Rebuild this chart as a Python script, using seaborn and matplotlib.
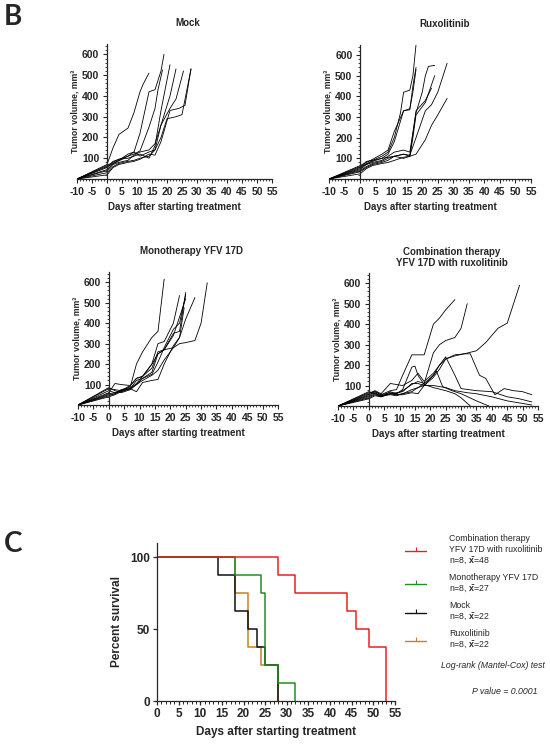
import pandas as pd
import matplotlib
matplotlib.use("Agg")
import matplotlib.pyplot as plt
from matplotlib.lines import Line2D
from matplotlib.ticker import MultipleLocator
import seaborn as sns

# ---- tumour growth, one list per mouse (days after start, volume mm3) ----
mock_days = [
    [-10, 0, 2, 4, 7, 9, 11, 12, 14],
    [-10, 0, 3, 5, 7, 9, 11, 14, 16, 18, 19],
    [-10, 0, 2, 5, 7, 9, 11, 14, 16, 17, 18.5],
    [-10, 0, 2, 4, 7, 9, 11, 14, 16, 18, 21],
    [-10, 0, 2, 4, 7, 9, 11, 14, 16, 18, 21, 23],
    [-10, 0, 2, 4, 7, 9, 11, 14, 16, 18, 21, 23, 25.5],
    [-10, 0, 2, 4, 7, 9, 11, 14, 16, 18, 20, 23, 25, 28],
    [-10, 0, 2, 4, 7, 9, 11, 14, 16, 18, 21, 24, 26, 28],
]
mock_vols = [
    [0, 70, 150, 215, 245, 320, 420, 455, 510],
    [0, 60, 80, 95, 110, 130, 220, 420, 430, 520, 600],
    [0, 55, 85, 100, 110, 120, 135, 250, 340, 430, 525],
    [0, 65, 80, 95, 100, 110, 120, 100, 160, 330, 550],
    [0, 40, 70, 80, 90, 115, 130, 140, 170, 260, 400, 530],
    [0, 45, 75, 90, 120, 130, 110, 130, 140, 260, 340, 385, 520],
    [0, 30, 60, 75, 85, 90, 100, 110, 140, 200, 290, 300, 310, 530],
    [0, 20, 55, 70, 80, 85, 95, 120, 115, 180, 330, 340, 355, 530],
]

rux_days = [
    [-10, 0, 2, 4, 7, 9, 11, 13, 14, 16, 17, 18],
    [-10, 0, 2, 4, 7, 9, 11, 14, 16, 17, 18],
    [-10, 0, 2, 4, 7, 9, 11, 14, 16, 18, 20, 21, 22, 24],
    [-10, 0, 2, 4, 7, 9, 11, 14, 16, 17, 18, 21, 24],
    [-10, 0, 2, 4, 7, 9, 11, 14, 16, 18, 21, 23, 25, 28],
    [-10, 0, 2, 4, 7, 9, 11, 14, 16, 18, 21, 23, 25, 28],
    [-10, 0, 2, 4, 7, 9, 11, 14, 16, 17, 18],
    [-10, 0, 2, 4, 7, 9, 11, 14, 16, 18, 21, 23],
]
rux_vols = [
    [0, 60, 70, 90, 110, 130, 200, 320, 420, 430, 500, 650],
    [0, 50, 75, 85, 100, 120, 180, 330, 335, 450, 540],
    [0, 45, 70, 80, 90, 110, 130, 140, 130, 320, 420, 500, 545, 550],
    [0, 40, 60, 75, 85, 100, 110, 120, 110, 200, 310, 370, 500],
    [0, 35, 55, 70, 80, 90, 110, 120, 115, 200, 330, 360, 420, 560],
    [0, 25, 50, 65, 75, 80, 90, 105, 110, 120, 190, 260, 310, 390],
    [0, 65, 80, 95, 120, 140, 230, 330, 340, 420, 530],
    [0, 55, 85, 90, 100, 105, 110, 100, 110, 330, 380, 440],
]

mono_days = [
    [-10, 0, 2, 4, 7, 9, 11, 14, 16, 18],
    [-10, 0, 2, 4, 7, 9, 11, 14, 16, 18, 21, 23],
    [-10, 0, 2, 4, 7, 9, 11, 14, 16, 18, 21, 23, 25],
    [-10, 0, 2, 4, 7, 9, 11, 14, 16, 18, 21, 23, 25],
    [-10, 0, 2, 4, 7, 9, 11, 14, 16, 18, 21, 23, 24.5],
    [-10, 0, 2, 4, 7, 9, 11, 14, 16, 18, 21, 23, 25, 28],
    [-10, 0, 2, 4, 7, 9, 11, 14, 16, 18, 21, 23, 25, 28, 30, 32],
    [-10, 0, 2, 4, 7, 9, 11, 14, 16, 18, 21, 23, 25],
]
mono_vols = [
    [0, 80, 75, 70, 90, 200, 260, 330, 360, 615],
    [0, 50, 55, 70, 95, 130, 140, 200, 300, 310, 400, 535],
    [0, 60, 105, 100, 95, 130, 140, 180, 260, 270, 350, 360, 550],
    [0, 70, 60, 65, 80, 120, 130, 160, 250, 270, 340, 430, 520],
    [0, 55, 60, 70, 80, 65, 110, 120, 125, 200, 290, 330, 475],
    [0, 45, 55, 75, 85, 100, 120, 145, 170, 220, 280, 330, 420, 525],
    [0, 40, 50, 65, 80, 105, 140, 200, 250, 270, 280, 300, 305, 315, 400, 597],
    [0, 85, 70, 60, 75, 100, 130, 150, 210, 280, 370, 400, 540],
]

combo_days = [
    [-10, 0, 2, 4, 7, 9, 11, 14, 16, 18, 21, 23, 25, 28],
    [-10, 0, 2, 4, 7, 9, 11, 14, 16, 18, 21, 23, 25, 28, 30, 32],
    [-10, 0, 2, 4, 7, 9, 11, 14, 16, 18, 21, 23, 25, 28, 31, 35, 38, 42, 45, 49],
    [-10, 0, 2, 4, 7, 9, 11, 14, 16, 18, 21, 23, 25, 28, 30, 35, 40, 45, 49, 53],
    [-10, 0, 2, 4, 7, 9, 11, 14, 16, 18, 21, 23, 25, 28, 31, 33, 36, 38, 41, 44, 47, 50, 53],
    [-10, 0, 2, 4, 7, 9, 11, 14, 15, 16, 18, 21, 25, 28, 30, 33],
    [-10, 0, 2, 4, 7, 9, 11, 14, 16, 18, 21, 22, 24, 27, 30, 35, 39],
    [-10, 0, 2, 4, 7, 9, 11, 14, 16, 18, 21, 25, 28, 32, 35, 40, 45, 49, 53],
]
combo_vols = [
    [0, 65, 70, 55, 75, 80, 150, 250, 250, 250, 400, 430, 470, 520],
    [0, 50, 65, 45, 70, 60, 75, 105, 120, 110, 260, 300, 320, 335, 380, 500],
    [0, 40, 55, 45, 60, 55, 60, 70, 90, 110, 150, 200, 230, 250, 255, 270, 310, 380, 405, 590],
    [0, 60, 75, 60, 110, 105, 100, 125, 160, 120, 160, 200, 240, 150, 85, 75, 70, 45, 35, 20],
    [0, 70, 60, 50, 60, 55, 55, 65, 60, 100, 140, 180, 230, 245, 255, 255, 150, 135, 55, 85, 75, 70, 55],
    [0, 55, 70, 55, 65, 60, 80, 190, 195, 150, 105, 90, 75, 60, 40, 0],
    [0, 45, 60, 50, 55, 50, 60, 80, 90, 100, 150, 170, 95, 75, 60, 25, 0],
    [0, 35, 50, 45, 60, 65, 70, 110, 110, 100, 100, 90, 75, 65, 60, 45, 25, 15, 5],
]

# ---- Kaplan-Meier survival steps (day, percent surviving) ----
surv_combo_days = [0, 28, 32, 44, 46, 49, 53]
surv_combo = [100, 87.5, 75, 62.5, 50, 37.5, 0]
surv_mono_days = [0, 18, 24, 25, 28, 32]
surv_mono = [100, 87.5, 75, 25, 12.5, 0]
surv_mock_days = [0, 14, 18, 21, 23, 25, 28]
surv_mock = [100, 87.5, 62.5, 50, 37.5, 25, 0]
surv_rux_days = [0, 18, 21, 24, 28]
surv_rux = [100, 75, 37.5, 25, 0]

XBAR = r"$\bar{\mathrm{x}}$"
legend_labels = [
    "Combination therapy\nYFV 17D with ruxolitinib\nn=8, " + XBAR + "=48",
    "Monotherapy YFV 17D\nn=8, " + XBAR + "=27",
    "Mock\nn=8, " + XBAR + "=22",
    "Ruxolitinib\nn=8, " + XBAR + "=22",
]
RED, GREEN, BLACK, ORANGE = "#e8201f", "#1f8f22", "#111111", "#c8801e"

sns.set_style("ticks")
plt.rcParams["font.family"] = ["Liberation Sans", "DejaVu Sans"]
plt.rcParams["font.weight"] = "bold"
plt.rcParams["axes.labelweight"] = "bold"
plt.rcParams["axes.linewidth"] = 0.9
plt.rcParams["axes.unicode_minus"] = False
plt.rcParams["mathtext.fontset"] = "custom"
plt.rcParams["mathtext.rm"] = "Liberation Sans"
plt.rcParams["mathtext.it"] = "Liberation Sans:italic"
plt.rcParams["mathtext.bf"] = "Liberation Sans:bold"

W, H = 550, 747
fig = plt.figure(figsize=(W / 100, H / 100), dpi=100)
fig.patch.set_facecolor("white")


def rect(left, right, bottom, top):
    # pixel box -> figure fraction
    return [left / W, 1 - bottom / H, (right - left) / W, (bottom - top) / H]


def tumour_frame(days, vols):
    parts = [pd.DataFrame({"mouse": i, "day": d, "volume": v})
             for i, (d, v) in enumerate(zip(days, vols))]
    return pd.concat(parts, ignore_index=True)


def tumour_panel(box, days, vols, title):
    ax = fig.add_axes(box)
    df = tumour_frame(days, vols)
    sns.lineplot(data=df, x="day", y="volume", units="mouse", estimator=None,
                 sort=False, color="black", lw=0.6, ax=ax, legend=False)
    ax.set_xlim(-10, 55)
    ax.set_ylim(0, 650)
    sns.despine(ax=ax)
    ax.spines["left"].set_position(("data", 0))
    ax.set_xticks(range(-10, 56, 5))
    ax.xaxis.set_minor_locator(MultipleLocator(1))
    ax.set_yticks(range(100, 601, 100))
    ax.yaxis.set_minor_locator(MultipleLocator(20))
    ax.tick_params(which="major", length=3, width=0.8, labelsize=7.5, pad=2.5)
    ax.tick_params(which="minor", length=1.6, width=0.6)
    ax.set_xlabel("Days after starting treatment", fontsize=7, labelpad=4)
    ax.set_ylabel("Tumor volume, mm\u00b3", fontsize=6.3, labelpad=2)
    ax.text(0.57, 1.195, title, transform=ax.transAxes, ha="center", va="top",
            fontsize=7, fontweight="bold", linespacing=1.1)
    return ax


tumour_panel(rect(77, 272, 179, 44), mock_days, mock_vols, "Mock")
tumour_panel(rect(329, 531, 179, 44.7), rux_days, rux_vols, "Ruxolitinib")
tumour_panel(rect(78, 278, 405, 272), mono_days, mono_vols, "Monotherapy YFV 17D")
tumour_panel(rect(338, 538, 406, 273), combo_days, combo_vols,
             "Combination therapy\nYFV 17D with ruxolitinib")

# ---- survival panel ----
ax = fig.add_axes(rect(157, 395, 701, 542.6))
curves = [
    (surv_rux_days, surv_rux, ORANGE),
    (surv_mock_days, surv_mock, BLACK),
    (surv_mono_days, surv_mono, GREEN),
    (surv_combo_days, surv_combo, RED),
]
for d, s, c in curves:
    sns.lineplot(x=d, y=s, estimator=None, drawstyle="steps-post", color=c,
                 lw=1.1, ax=ax, legend=False)
ax.set_xlim(0, 55)
ax.set_ylim(0, 110)
sns.despine(ax=ax)
ax.set_xticks(range(0, 56, 5))
ax.xaxis.set_minor_locator(MultipleLocator(1))
ax.set_yticks([0, 50, 100])
ax.tick_params(which="major", length=3, width=0.9, labelsize=8.5, pad=2)
ax.tick_params(which="minor", length=1.8, width=0.7)
ax.set_xlabel("Days after starting treatment", fontsize=8.5, labelpad=4)
ax.set_ylabel("Percent survival", fontsize=8.5, labelpad=5)

handles = [Line2D([0], [0], color=c, lw=1.0, marker=2, markersize=3, markeredgewidth=0.8)
           for c in (RED, GREEN, BLACK, ORANGE)]
leg = fig.legend(handles, legend_labels, loc="upper left",
                 bbox_to_anchor=(405 / W, 1 - 534 / H),
                 frameon=False, borderaxespad=0, borderpad=0, handlelength=2.4,
                 handletextpad=2.6, labelspacing=0.65,
                 prop={"size": 6.3, "weight": "normal"})
for t in leg.get_texts():
    t.set_linespacing(1.25)
fig.text(493 / W, 1 - 666 / H, "Log-rank (Mantel-Cox) test", ha="center", va="center",
         fontsize=6.3, style="italic", fontweight="normal")
fig.text(505 / W, 1 - 692 / H, "P value = 0.0001", ha="center", va="center",
         fontsize=6.3, style="italic", fontweight="normal")

# panel letters
fig.text(4 / W, 1 - 4 / H, "B", ha="left", va="top", fontsize=20, fontweight="bold",
         family=["Lato", "DejaVu Sans"])
fig.text(4 / W, 1 - 531 / H, "C", ha="left", va="top", fontsize=20, fontweight="bold",
         family=["Lato", "DejaVu Sans"])

fig.savefig("out.png", dpi=100, facecolor="white")
